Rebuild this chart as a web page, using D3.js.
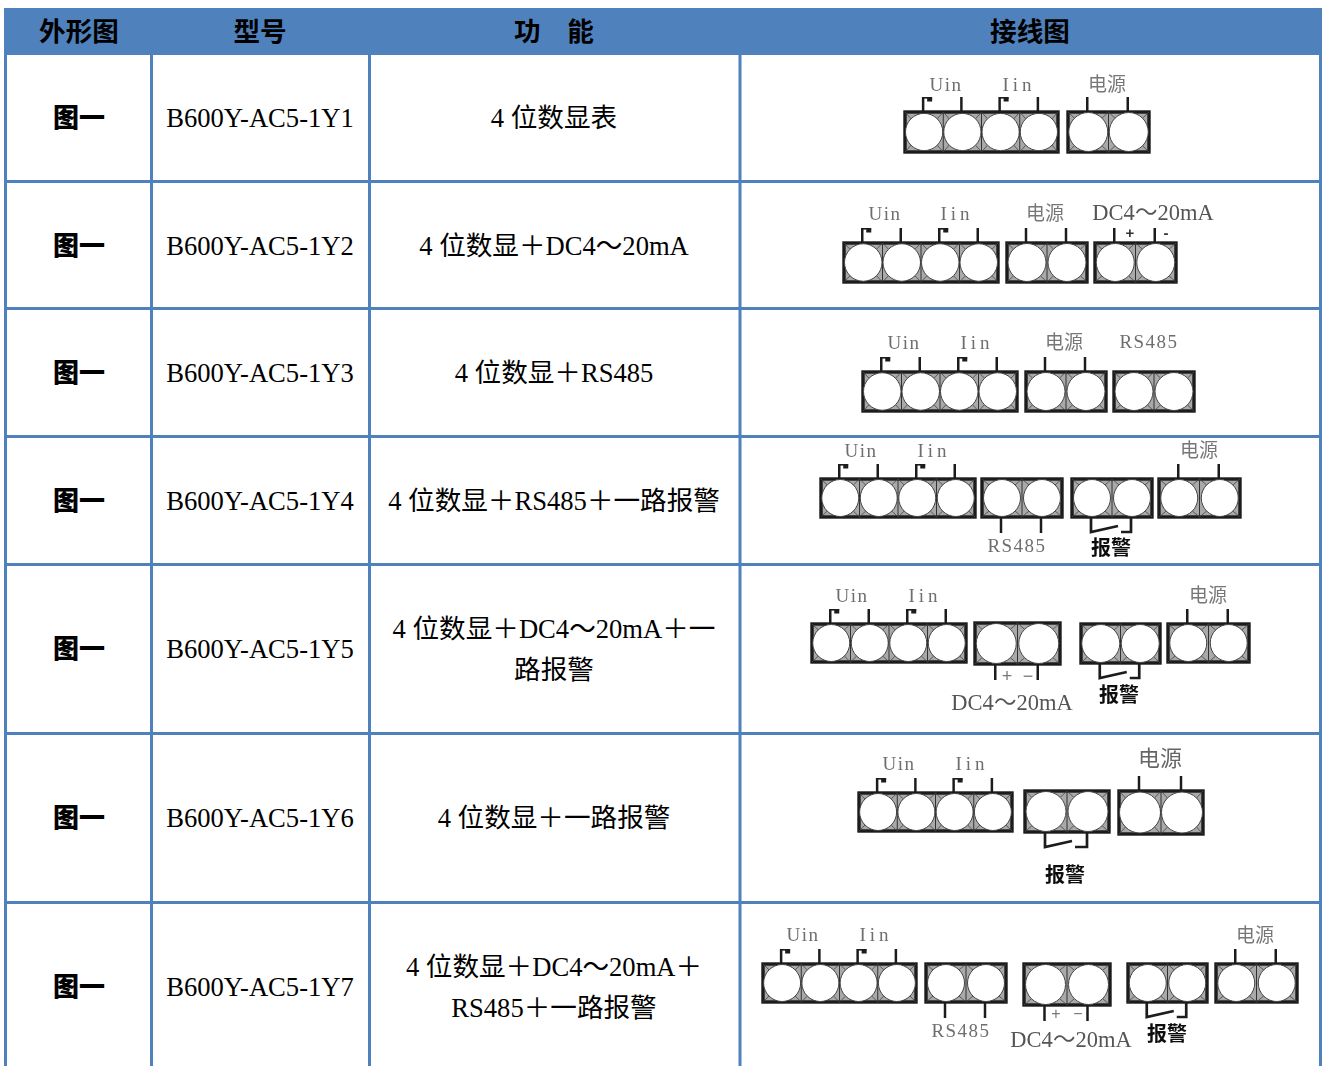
<!DOCTYPE html>
<html>
<head>
<meta charset="utf-8">
<style>
    html, body { margin: 0; padding: 0; background: #fff; overflow: hidden; }
    svg { display: block; }
    .cjk { font-family: "Noto Sans CJK SC"; }
    text { white-space: pre; }
</style>
<script src="https://d3js.org/d3.v7.min.js"></script>
</head>
<body>
<svg></svg>
<script>
// table content
const headers = ["外形图", "型号", "功　能", "接线图"];
const figureNames = ["图一", "图一", "图一", "图一", "图一", "图一", "图一"];
const models = ["B600Y-AC5-1Y1", "B600Y-AC5-1Y2", "B600Y-AC5-1Y3", "B600Y-AC5-1Y4", "B600Y-AC5-1Y5", "B600Y-AC5-1Y6", "B600Y-AC5-1Y7"];
const functions = [
    ["4 位数显表"],
    ["4 位数显＋DC4～20mA"],
    ["4 位数显＋RS485"],
    ["4 位数显＋RS485＋一路报警"],
    ["4 位数显＋DC4～20mA＋一", "路报警"],
    ["4 位数显＋一路报警"],
    ["4 位数显＋DC4～20mA＋", "RS485＋一路报警"]
];

// layout of the grid
const width = 1327, height = 1066;
const blue = "#4f81bd";
const colEdges = [5.5, 151.5, 369.5, 740, 1320.5];
const colCenters = [79, 260, 554, 1030];
const headerTop = 8, headerBottom = 55;
const rowEdges = [55, 181.5, 308.5, 436.5, 564.5, 733.5, 902.5, 1075];
const rowCenters = [118, 246, 373, 501, 649, 818, 987];
const lineGap = 41;

// wiring diagrams. pins: up, down, alarm
const diagrams = [
    { blocks: [[905, 112, 4, 153, 40, "up"], [1068, 112, 2, 81, 40, "up"]],
      labels: [["Uin", 946, 91, "t"], ["Iin", 1019, 91, "t2"], ["电源", 1107, 91, "c"]] },
    { blocks: [[844, 243, 4, 154, 39, "up"], [1007, 243, 2, 80, 39, "up"], [1095, 243, 2, 81, 39, "up"]],
      labels: [["Uin", 885, 220, "t"], ["Iin", 957, 220, "t2"], ["电源", 1045, 220, "c"], ["DC4～20mA", 1153, 220, "d"], ["+", 1130, 238, "p"], ["-", 1166, 238, "p"]] },
    { blocks: [[863, 372, 4, 154, 39, "up"], [1026, 372, 2, 80, 39, "up"], [1114, 372, 2, 80, 39, "none"]],
      labels: [["Uin", 904, 349, "t"], ["Iin", 977, 349, "t2"], ["电源", 1064, 349, "c"], ["RS485", 1149, 348, "t"]] },
    { blocks: [[821, 479, 4, 154, 38, "up"], [982, 479, 2, 80, 38, "down"], [1072, 479, 2, 80, 38, "alarm"], [1159, 479, 2, 81, 38, "up"]],
      labels: [["Uin", 861, 457, "t"], ["Iin", 934, 457, "t2"], ["电源", 1199, 457, "c"], ["RS485", 1017, 552, "t"], ["报警", 1111, 555, "a"]] },
    { blocks: [[812, 624, 4, 154, 38, "up"], [975, 623, 2, 85, 41, "down"], [1081, 624, 2, 79, 39, "alarm"], [1168, 624, 2, 81, 38, "up"]],
      labels: [["Uin", 852, 602, "t"], ["Iin", 925, 602, "t2"], ["电源", 1208, 602, "c"], ["+", 1007, 682, "p2"], ["−", 1028, 682, "p2"], ["DC4～20mA", 1012, 710, "d"], ["报警", 1119, 702, "a"]] },
    { blocks: [[859, 793, 4, 153, 38, "up"], [1025, 791, 2, 84, 41, "alarm"], [1119, 791, 2, 84, 43, "up"]],
      labels: [["Uin", 899, 770, "t"], ["Iin", 972, 770, "t2"], ["电源", 1160, 766, "c2"], ["报警", 1065, 882, "a"]] },
    { blocks: [[763, 964, 4, 153, 38, "up"], [926, 964, 2, 80, 38, "down"], [1024, 964, 2, 86, 41, "down"], [1128, 964, 2, 79, 38, "alarm"], [1216, 964, 2, 81, 38, "up"]],
      labels: [["Uin", 803, 941, "t"], ["Iin", 876, 941, "t2"], ["电源", 1255, 942, "c"], ["RS485", 961, 1037, "t"], ["+", 1056, 1019, "p3"], ["−", 1078, 1019, "p3"], ["DC4～20mA", 1071, 1047, "d"], ["报警", 1167, 1041, "a"]] }
];

const labelStyles = {
    t: { font: "Liberation Serif", size: 19, fill: "#6e6e6e", spacing: 1.5, weight: 400 },
    t2: { font: "Liberation Serif", size: 19, fill: "#6e6e6e", spacing: 4, weight: 400 },
    c: { font: "Noto Sans CJK SC", size: 19, fill: "#777", spacing: 0, weight: 400 },
    c2: { font: "Noto Sans CJK SC", size: 22, fill: "#666", spacing: 0, weight: 400 },
    d: { font: "Liberation Serif", size: 22.5, fill: "#555", spacing: 0, weight: 400 },
    p: { font: "Liberation Sans", size: 15, fill: "#333", spacing: 0, weight: 700 },
    p2: { font: "Liberation Sans", size: 18, fill: "#777", spacing: 0, weight: 400 },
    p3: { font: "Liberation Sans", size: 16, fill: "#777", spacing: 0, weight: 400 },
    a: { font: "Noto Sans CJK SC", size: 20, fill: "#111", spacing: 0, weight: 700 }
};

const svg = d3.select("svg").attr("width", width).attr("height", height);
svg.append("defs").append("filter").attr("id", "soft")
    .attr("x", "-5%").attr("y", "-5%").attr("width", "110%").attr("height", "110%")
    .append("feGaussianBlur").attr("stdDeviation", 0.6);

// header band and grid lines
svg.append("rect").attr("x", colEdges[0] - 1.5).attr("y", headerTop)
    .attr("width", colEdges[4] - colEdges[0] + 3).attr("height", headerBottom - headerTop).attr("fill", blue);
svg.append("g").selectAll("line").data(colEdges).join("line")
    .attr("x1", d => d).attr("x2", d => d).attr("y1", headerBottom).attr("y2", height)
    .attr("stroke", blue).attr("stroke-width", 3);
svg.append("g").selectAll("line").data(rowEdges.slice(1, 7)).join("line")
    .attr("x1", colEdges[0]).attr("x2", colEdges[4]).attr("y1", d => d).attr("y2", d => d)
    .attr("stroke", blue).attr("stroke-width", 3);

// header text
svg.append("g").selectAll("text").data(headers).join("text")
    .attr("class", "cjk")
    .attr("x", (d, i) => colCenters[i]).attr("y", 41)
    .attr("text-anchor", "middle").attr("font-size", 26.6).attr("font-weight", 700).attr("fill", "#000")
    .text(d => d);

// first column
svg.append("g").selectAll("text").data(figureNames).join("text")
    .attr("class", "cjk")
    .attr("x", colCenters[0]).attr("y", (d, i) => rowCenters[i] + 9)
    .attr("text-anchor", "middle").attr("font-size", 26).attr("font-weight", 900).attr("fill", "#000")
    .text(d => d);

// model column
svg.append("g").selectAll("text").data(models).join("text")
    .attr("x", colCenters[1]).attr("y", (d, i) => rowCenters[i] + 9)
    .attr("text-anchor", "middle").attr("font-family", "Liberation Serif").attr("font-size", 26.6).attr("fill", "#000")
    .text(d => d);

// latin and chinese runs get their own font
function addRuns(sel, str, size) {
    str.match(/[\u3000-\u9fff\uff00-\uffef]+|[^\u3000-\u9fff\uff00-\uffef]+/g).forEach(run => {
        const isCjk = /[\u3000-\u9fff\uff00-\uffef]/.test(run);
        sel.append("tspan")
            .attr("font-family", isCjk ? "Noto Sans CJK SC" : "Liberation Serif")
            .attr("font-size", size)
            .text(run);
    });
}
const funcGroup = svg.append("g");
functions.forEach((lines, i) => {
    lines.forEach((line, j) => {
        const t = funcGroup.append("text")
            .attr("x", colCenters[2])
            .attr("y", rowCenters[i] + 9 + (j - (lines.length - 1) / 2) * lineGap)
            .attr("text-anchor", "middle").attr("fill", "#000");
        addRuns(t, line, 26.6);
    });
});

// wiring diagrams
const wiring = svg.append("g").attr("filter", "url(#soft)");
const dark = "#1c1c1c";
function drawBlock(g, [x, y, n, w, h, pins]) {
    const cell = d3.scaleBand().domain(d3.range(n)).range([x, x + w]);
    const cw = cell.bandwidth();
    g.append("rect").attr("x", x).attr("y", y).attr("width", w).attr("height", h)
        .attr("fill", "#a9a9a9").attr("stroke", dark).attr("stroke-width", 3.4);
    d3.range(n).forEach(k => {
        const cx = cell(k) + cw / 2, cy = y + h / 2, r = Math.min(cw, h) / 2 - 0.5;
        [[-1, -1], [1, -1], [-1, 1], [1, 1]].forEach(([sx, sy]) => {
            g.append("line").attr("x1", cx + sx * cw / 2).attr("y1", cy + sy * h / 2)
                .attr("x2", cx + sx * r * 0.7).attr("y2", cy + sy * r * 0.7)
                .attr("stroke", "#444").attr("stroke-width", 0.8);
        });
        if (k > 0) {
            g.append("line").attr("x1", cell(k)).attr("x2", cell(k)).attr("y1", y).attr("y2", y + h)
                .attr("stroke", "#333").attr("stroke-width", 1);
        }
        g.append("circle").attr("cx", cx).attr("cy", cy).attr("r", r)
            .attr("fill", "#fff").attr("stroke", "#444").attr("stroke-width", 1);
        const px = cx - 1;
        if (pins === "up") {
            g.append("line").attr("x1", px).attr("x2", px).attr("y1", y - 15).attr("y2", y)
                .attr("stroke", dark).attr("stroke-width", 2.5);
            if (n === 4 && k % 2 === 0) {
                g.append("rect").attr("x", px).attr("y", y - 15).attr("width", 9).attr("height", 1.6).attr("fill", dark);
                g.append("rect").attr("x", px + 4).attr("y", y - 14.5).attr("width", 5).attr("height", 4).attr("fill", dark);
            }
        }
        if (pins === "down") {
            g.append("line").attr("x1", px).attr("x2", px).attr("y1", y + h).attr("y2", y + h + 16)
                .attr("stroke", dark).attr("stroke-width", 2.5);
        }
    });
    if (pins === "alarm") {
        const x1 = cell(0) + cw / 2 - 1, x2 = cell(1) + cw / 2 - 1, b = y + h + 15;
        g.append("path")
            .attr("d", `M${x1},${y + h}V${b}L${x1 + 27},${b - 6}M${x1 + 30},${b}H${x2}V${y + h}`)
            .attr("fill", "none").attr("stroke", dark).attr("stroke-width", 2.7);
    }
}
diagrams.forEach(d => {
    const g = wiring.append("g");
    d.blocks.forEach(b => drawBlock(g, b));
    d.labels.forEach(l => {
        const st = labelStyles[l[3]];
        const t = g.append("text")
            .attr("x", l[1]).attr("y", l[2])
            .attr("text-anchor", "middle")
            .attr("font-family", st.font)
            .attr("font-size", st.size)
            .attr("font-weight", st.weight)
            .attr("letter-spacing", st.spacing)
            .attr("fill", st.fill);
        if (l[3] === "d") addRuns(t, l[0], st.size);
        else t.text(l[0]);
    });
});
</script>
</body>
</html>
